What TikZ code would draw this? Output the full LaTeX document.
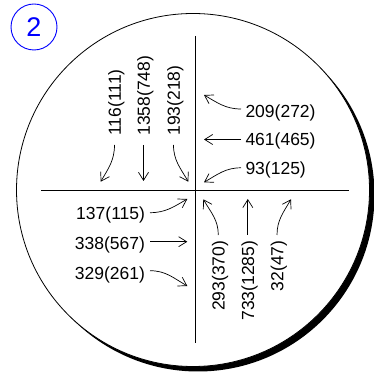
\documentclass[tikz,border=0pt]{standalone}
\usepackage{fontspec}
\setmainfont{Liberation Sans}
\usetikzlibrary{arrows.meta}
\begin{document}
\begin{tikzpicture}[x=1pt,y=1pt,
  lbl/.style={inner sep=0pt, outer sep=0pt, font=\fontsize{17.5}{21}\selectfont},
  arr/.style={line width=0.7pt, -{Straight Barb[length=8pt,width=10pt]}},
  axisline/.style={line width=0.8pt},
  badge/.style={draw=blue, text=blue, circle, line width=0.9pt, minimum size=46pt, inner sep=0pt, font=\fontsize{27}{30}\selectfont}]
\useasboundingbox (0,0) rectangle (373,380);
% plate with shadow
\fill[black] (198,185) circle (176.5);
\filldraw[fill=white, draw=black, line width=0.8pt] (193,190) circle (176.5);
% axes
\draw[axisline] (41,189.5) -- (349,189.5);
\draw[axisline] (195.5,344) -- (195.5,37);
% badge
\node[badge] (num) at (34,353) {2};
% top-left group
\node[lbl, rotate=90, anchor=west] (l116) at (116.3,244.5) {116(111)};
\node[lbl, rotate=90, anchor=west] (l1358) at (145.3,244.5) {1358(748)};
\node[lbl, rotate=90, anchor=west] (l193) at (175.3,244.5) {193(218)};
\coordinate (t116) at (100.7,198.3);
\coordinate (t1358) at (143.5,199);
\coordinate (t193) at (188.3,198.3);
\draw[arr] ([xshift=-1.8pt,yshift=-9.5pt]l116.west) to[out=-90,in=60] (t116);
\draw[arr] ([xshift=-1.8pt,yshift=-9.5pt]l1358.west) -- (t1358);
\draw[arr] ([xshift=-1.8pt,yshift=-9.5pt]l193.west) to[out=-90,in=120] (t193);
% right group
\node[lbl, anchor=west] (l209) at (245.5,267) {209(272)};
\node[lbl, anchor=west] (l461) at (245.5,238.7) {461(465)};
\node[lbl, anchor=west] (l93) at (245.5,210.4) {93(125)};
\coordinate (t209) at (204,285);
\coordinate (t461) at (204,240.5);
\coordinate (t93) at (204,197.7);
\draw[arr] ([xshift=-4.5pt,yshift=4pt]l209.west) to[out=180,in=-30] (t209);
\draw[arr] ([xshift=-4.5pt,yshift=1.8pt]l461.west) -- (t461);
\draw[arr] ([xshift=-4.5pt,yshift=1.8pt]l93.west) to[out=180,in=30] (t93);
% left group
\node[lbl, anchor=east] (l137) at (145,164.9) {137(115)};
\node[lbl, anchor=east] (l338) at (145,135.2) {338(567)};
\node[lbl, anchor=east] (l329) at (145,105.2) {329(261)};
\coordinate (t137) at (187.3,181);
\coordinate (t338) at (187.3,138.3);
\coordinate (t329) at (187.3,94);
\draw[arr] ([xshift=5pt,yshift=2.4pt]l137.east) to[out=0,in=210] (t137);
\draw[arr] ([xshift=5pt,yshift=3.1pt]l338.east) -- (t338);
\draw[arr] ([xshift=5pt,yshift=4.1pt]l329.east) to[out=0,in=150] (t329);
% bottom-right group
\node[lbl, rotate=90, anchor=east] (l293) at (220.1,139.3) {293(370)};
\node[lbl, rotate=90, anchor=east] (l733) at (249.6,139.3) {733(1285)};
\node[lbl, rotate=90, anchor=east] (l32) at (278.8,139.3) {32(47)};
\coordinate (t293) at (203.3,180.7);
\coordinate (t733) at (247.8,181);
\coordinate (t32) at (291,180.7);
\draw[arr] ([xshift=-1.8pt,yshift=5.7pt]l293.east) to[out=90,in=-60] (t293);
\draw[arr] ([xshift=-1.8pt,yshift=5.7pt]l733.east) -- (t733);
\draw[arr] ([xshift=-1.8pt,yshift=5.7pt]l32.east) to[out=90,in=240] (t32);
\end{tikzpicture}
\end{document}
